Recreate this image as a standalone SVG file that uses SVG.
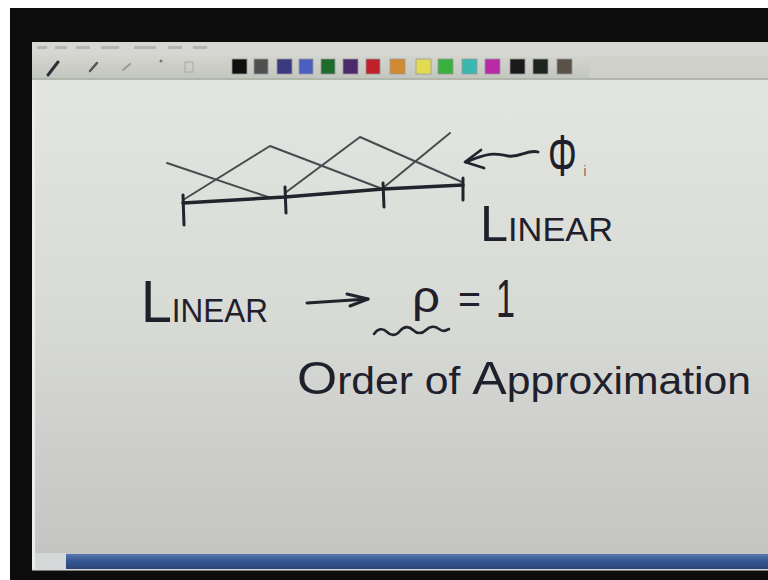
<svg xmlns="http://www.w3.org/2000/svg" width="768" height="580" viewBox="0 0 768 580">
<defs>
<linearGradient id="canvasBg" x1="0" y1="0" x2="0" y2="1">
<stop offset="0" stop-color="#e3e5e1"/>
<stop offset="0.5" stop-color="#d8dad6"/>
<stop offset="1" stop-color="#c4c5c3"/>
</linearGradient>
<linearGradient id="blueBar" x1="0" y1="0" x2="0" y2="1">
<stop offset="0" stop-color="#5a78b0"/>
<stop offset="0.5" stop-color="#34558f"/>
<stop offset="1" stop-color="#2a4478"/>
</linearGradient>
<linearGradient id="toolBg" x1="0" y1="0" x2="0" y2="1">
<stop offset="0" stop-color="#d4d5cf"/>
<stop offset="1" stop-color="#c3c5bf"/>
</linearGradient>
</defs>
<style>
.ink{fill:none;stroke:#22232c;stroke-linecap:round;stroke-linejoin:round}
.thin{fill:none;stroke:#4a4b50;stroke-width:2;stroke-linecap:round;stroke-linejoin:round}
.hand{font-family:"Liberation Sans","DejaVu Sans",sans-serif;fill:#1f202b}
.sw{stroke:#9a9a98;stroke-width:0.8}
</style>
<!-- outer frame -->
<rect x="0" y="0" width="768" height="580" fill="#ffffff"/>
<rect x="10" y="8" width="758" height="572" fill="#0c0c0c"/>
<!-- window -->
<rect x="32" y="42" width="736" height="528" fill="#cfd0cc"/>
<rect x="32" y="42" width="736" height="13" fill="#d6d6d2"/>
<g fill="#a8a8a6" opacity="0.7">
<rect x="37" y="46" width="10" height="3"/><rect x="55" y="46" width="12" height="3"/><rect x="76" y="46" width="14" height="3"/><rect x="101" y="46" width="18" height="3"/><rect x="134" y="46" width="22" height="3"/><rect x="168" y="46" width="14" height="3"/><rect x="193" y="46" width="14" height="3"/>
</g>
<rect x="32" y="55" width="736" height="24" fill="url(#toolBg)"/>
<rect x="590" y="56" width="178" height="22" fill="#d0d0cb"/>
<line x1="32" y1="79" x2="768" y2="79" stroke="#a9b0a4" stroke-width="1.5"/>
<!-- tool icons -->
<g stroke-linecap="round">
<line x1="48" y1="75" x2="58" y2="62" stroke="#2e3038" stroke-width="3"/>
<line x1="90" y1="71" x2="97" y2="63" stroke="#555" stroke-width="2.5"/>
<line x1="123" y1="70" x2="130" y2="64" stroke="#9a9a96" stroke-width="2"/>
<circle cx="161" cy="61" r="1.5" fill="#777"/>
<rect x="185" y="62" width="8" height="10" fill="none" stroke="#aaa" stroke-width="1"/>
</g>
<!-- colour swatches -->
<g class="sw">
<rect x="232" y="59" width="15" height="15" fill="#101010"/>
<rect x="254" y="59" width="14" height="15" fill="#505050"/>
<rect x="277" y="59" width="15" height="15" fill="#3a3a80"/>
<rect x="299" y="59" width="14" height="15" fill="#4a60c0"/>
<rect x="321" y="59" width="14" height="15" fill="#1e6a2a"/>
<rect x="343" y="59" width="15" height="15" fill="#4a2a6a"/>
<rect x="366" y="59" width="14" height="15" fill="#c0202a"/>
<rect x="390" y="59" width="15" height="15" fill="#d08a30"/>
<rect x="416" y="59" width="15" height="15" fill="#e2da50"/>
<rect x="438" y="59" width="15" height="15" fill="#3ab040"/>
<rect x="462" y="59" width="15" height="15" fill="#3ab8b0"/>
<rect x="485" y="59" width="15" height="15" fill="#b82aa8"/>
<rect x="510" y="59" width="15" height="15" fill="#1a1a1a"/>
<rect x="533" y="59" width="15" height="15" fill="#1e2420"/>
<rect x="557" y="59" width="15" height="15" fill="#5a5248"/>
</g>
<!-- canvas -->
<rect x="32" y="80" width="736" height="475" fill="url(#canvasBg)"/>
<rect x="32" y="80" width="3" height="489" fill="#ececec"/>
<rect x="35" y="553" width="31" height="16" fill="#d4d8d8"/>
<rect x="66" y="554" width="702" height="15" fill="url(#blueBar)"/>
<rect x="32" y="569" width="736" height="2" fill="#e6e6e6" opacity="0.5"/>
<!-- top sketch: hat functions -->
<g id="hat-functions">
<polyline class="thin" points="167,163 268,197"/>
<polyline class="thin" points="183,200 270,146 380,188"/>
<polyline class="thin" points="285,193 360,137 462,182"/>
<polyline class="thin" points="383,188 450,133"/>
</g>
<g id="mesh">
<polyline class="ink" stroke-width="3.5" points="183,203 285,197 383,189 463,185"/>
<line class="ink" stroke-width="3" x1="183" y1="195" x2="184" y2="225"/>
<line class="ink" stroke-width="3" x1="285" y1="187" x2="286" y2="213"/>
<line class="ink" stroke-width="3" x1="383" y1="183" x2="384" y2="207"/>
<line class="ink" stroke-width="3" x1="463" y1="178" x2="463" y2="200"/>
</g>
<g id="phi-label">
<path class="ink" stroke-width="2.8" d="M538,152 C528,149 520,158 508,156 S492,151 466,162"/>
<path class="ink" stroke-width="2.8" d="M481,150 L465,162 L484,168"/>
<text class="hand" transform="translate(548,176) scale(0.6,1)"><tspan x="0" font-size="60">Φ</tspan><tspan x="60" font-size="14">i</tspan></text>
</g>
<g id="linear-top">
<text class="hand" x="480" y="241" textLength="133" lengthAdjust="spacingAndGlyphs"><tspan font-size="50">L</tspan><tspan font-size="34">INEAR</tspan></text>
</g>
<g id="linear-eq">
<text class="hand" x="141" y="322" textLength="127" lengthAdjust="spacingAndGlyphs"><tspan font-size="60">L</tspan><tspan font-size="34">INEAR</tspan></text>
</g>
<g id="connectors">
<path class="ink" stroke-width="3" d="M307,303 L368,299"/>
<path class="ink" stroke-width="3" d="M347,294 L368,299 L350,306"/>
<path class="ink" stroke-width="2.6" d="M374,334 c4,-6 9,-6 13,-2 s9,4 13,-1 s9,-5 13,-1 s9,4 13,0 s9,-4 13,-1 s6,2 10,0"/>
</g>
<g id="p-equals-1">
<text class="hand" x="412" y="312" font-size="44" textLength="28" lengthAdjust="spacingAndGlyphs">ρ</text>
<text class="hand" x="458" y="313" font-size="40" textLength="23" lengthAdjust="spacingAndGlyphs">=</text>
<text class="hand" x="496" y="317" font-size="54" textLength="19" lengthAdjust="spacingAndGlyphs">1</text>
</g>
<g id="order-label">
<text class="hand" x="297" y="394" font-size="38" textLength="454" lengthAdjust="spacingAndGlyphs"><tspan font-size="46">O</tspan>rder of <tspan font-size="46">A</tspan>pproximation</text>
</g>
</svg>
